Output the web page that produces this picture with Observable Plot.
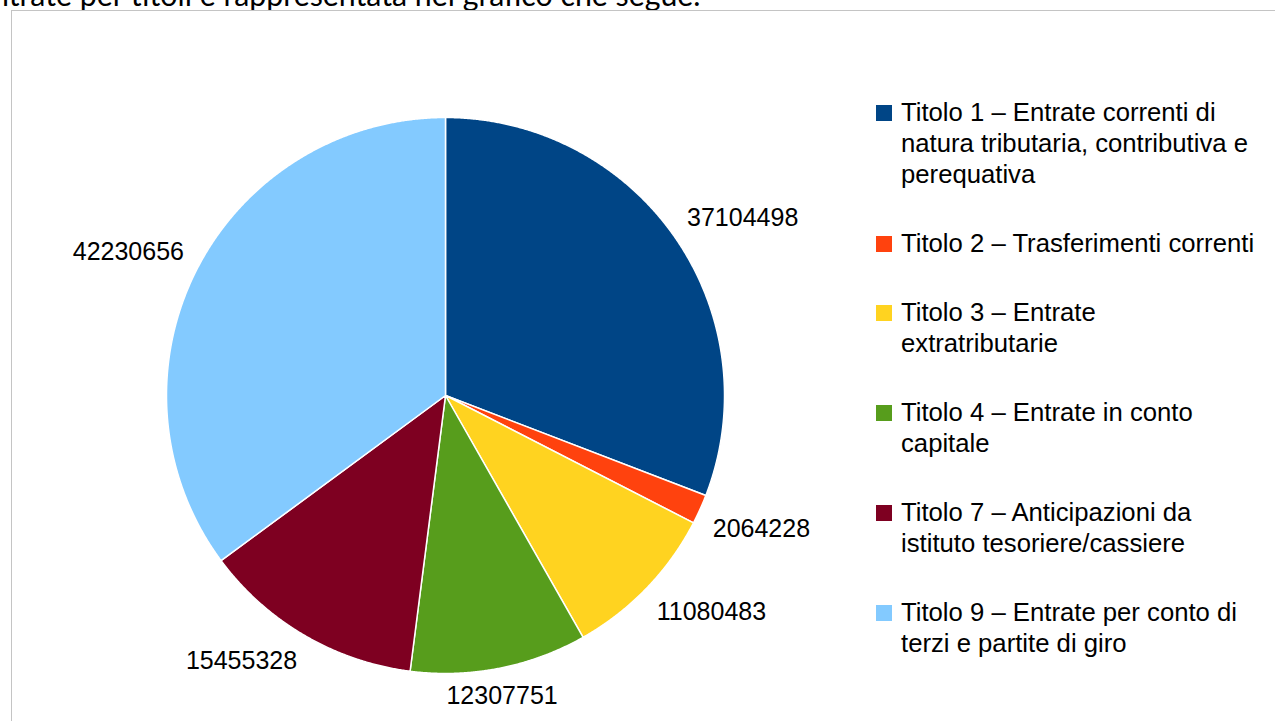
<!DOCTYPE html>
<html><head><meta charset="utf-8">
<script src="https://cdn.jsdelivr.net/npm/d3@7"></script>
<script src="https://cdn.jsdelivr.net/npm/@observablehq/plot@0.6"></script>
<style>
body{margin:0;background:#fff;width:1275px;height:721px;overflow:hidden;position:relative;font-family:"Liberation Sans",Arial,sans-serif;color:#000;}
#top{position:absolute;left:-8px;top:-21px;font-family:Lato,"Open Sans",sans-serif;font-size:30.3px;line-height:30px;white-space:nowrap;color:#000;}
#frame{position:absolute;left:11px;top:10px;right:-5px;bottom:-5px;border-left:1px solid #c4c4c4;border-top:1px solid #c4c4c4;}
#chart{position:absolute;left:0;top:0;}
#legend{position:absolute;left:876px;top:97px;font-size:25.7px;line-height:31px;}
.item{display:flex;margin-bottom:38px;}
.sw{width:16px;height:16px;margin-top:8px;margin-right:9px;flex:none;}
</style></head><body>
<div id="top">ntrate per titoli è rappresentata nel grafico che segue.</div>
<div id="frame"></div>
<div id="chart"></div>
<div id="legend"></div>
<script>
const categories = [
  "Titolo 1 – Entrate correnti di natura tributaria, contributiva e perequativa",
  "Titolo 2 – Trasferimenti correnti",
  "Titolo 3 – Entrate extratributarie",
  "Titolo 4 – Entrate in conto capitale",
  "Titolo 7 – Anticipazioni da istituto tesoriere/cassiere",
  "Titolo 9 – Entrate per conto di terzi e partite di giro"
];
const values = [37104498, 2064228, 11080483, 12307751, 15455328, 42230656];
const colors = ["#004586", "#ff420e", "#ffd320", "#579d1c", "#7e0021", "#83caff"];
const legendLines = [
  ["Titolo 1 – Entrate correnti di", "natura tributaria, contributiva e", "perequativa"],
  ["Titolo 2 – Trasferimenti correnti"],
  ["Titolo 3 – Entrate", "extratributarie"],
  ["Titolo 4 – Entrate in conto", "capitale"],
  ["Titolo 7 – Anticipazioni da", "istituto tesoriere/cassiere"],
  ["Titolo 9 – Entrate per conto di", "terzi e partite di giro"]
];

const arcs = d3.pie().sort(null).value(d => d)(values);
const poly = [];
arcs.forEach((a, i) => {
  const cat = categories[i];
  poly.push({cat, x: 0, y: 0});
  const n = Math.max(2, Math.ceil((a.endAngle - a.startAngle) / 0.004));
  for (let k = 0; k <= n; k++) {
    const t = a.startAngle + (a.endAngle - a.startAngle) * k / n;
    poly.push({cat, x: Math.sin(t), y: Math.cos(t)});
  }
});
const labelR = 1.05;
const labels = arcs.map((a, i) => {
  const m = (a.startAngle + a.endAngle) / 2;
  const sx = Math.sin(m), cy = Math.cos(m);
  return {
    x: sx * labelR, y: cy * labelR, text: String(values[i]),
    h: sx > 0.3 ? "start" : sx < -0.3 ? "end" : "middle",
    v: cy > 0 ? "bottom" : "top"
  };
});
const textMarks = [];
for (const h of ["start", "middle", "end"]) for (const v of ["top", "bottom"]) {
  const sub = labels.filter(d => d.h === h && d.v === v);
  if (sub.length) textMarks.push(Plot.text(sub, {x: "x", y: "y", text: "text", textAnchor: h, lineAnchor: v, dy: v === "top" ? 4.5 : -4, fontSize: 25, fill: "#000", fontFamily: "Liberation Sans, Arial, sans-serif"}));
}

const chart = Plot.plot({
  width: 1275, height: 721, margin: 0,
  style: {background: "transparent", overflow: "visible"},
  x: {domain: [-1, 1], range: [166, 724], axis: null},
  y: {domain: [-1, 1], range: [673, 117], axis: null},
  color: {domain: categories, range: colors},
  marks: [
    Plot.line(poly, {x: "x", y: "y", z: "cat", fill: "cat", stroke: "white", strokeWidth: 1.5, curve: "linear-closed"}),
    ...textMarks
  ]
});
document.getElementById("chart").appendChild(chart);

const leg = document.getElementById("legend");
legendLines.forEach((lines, i) => {
  const it = document.createElement("div"); it.className = "item";
  const sw = document.createElement("div"); sw.className = "sw"; sw.style.background = colors[i];
  const tx = document.createElement("div"); tx.innerHTML = lines.map(l => l.replace(/&/g,"&amp;").replace(/</g,"&lt;")).join("<br>");
  it.appendChild(sw); it.appendChild(tx); leg.appendChild(it);
});
</script>
</body></html>
